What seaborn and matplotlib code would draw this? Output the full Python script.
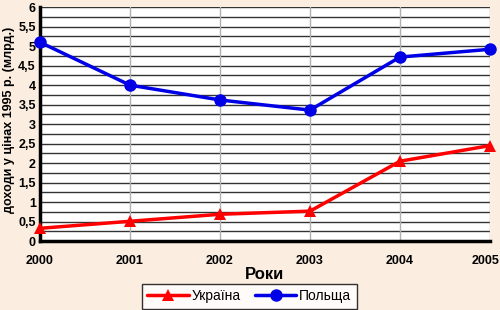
import matplotlib
matplotlib.use("Agg")
import matplotlib.pyplot as plt
import matplotlib.transforms as mtransforms
import seaborn as sns
import pandas as pd
import numpy as np

years = [2000, 2001, 2002, 2003, 2004, 2005]
ukraine = [0.33, 0.51, 0.69, 0.77, 2.05, 2.45]
poland = [5.10, 4.00, 3.62, 3.36, 4.72, 4.92]
y_ticks = [0, 0.5, 1, 1.5, 2, 2.5, 3, 3.5, 4, 4.5, 5, 5.5, 6]
y_tick_labels = ["0", "0,5", "1", "1,5", "2", "2,5", "3", "3,5", "4", "4,5", "5", "5,5", "6"]

sns.set_style("white")
plt.rcParams['font.family'] = ['Liberation Sans', 'DejaVu Sans']
plt.rcParams['text.color'] = 'black'
plt.rcParams['axes.labelcolor'] = 'black'
plt.rcParams['xtick.color'] = 'black'
plt.rcParams['ytick.color'] = 'black'

df = pd.DataFrame({
    "year": years * 2,
    "value": ukraine + poland,
    "country": ["Україна"] * 6 + ["Польща"] * 6,
})

fig = plt.figure(figsize=(5, 3.1), dpi=100, facecolor="#FBEEE0")
ax = fig.add_axes([0.08, 0.222, 0.90, 0.755])
ax.set_facecolor("white")

# grid
for v in np.arange(0.25, 6.01, 0.25):
    ax.axhline(v, color="#333333", lw=1.0, zorder=1)
for yr in years[1:]:
    ax.axvline(yr, color="#b0b0b0", lw=1.0, zorder=1)

sns.lineplot(data=df, x="year", y="value", hue="country", style="country",
             palette={"Україна": "#ff0000", "Польща": "#0000e6"},
             markers={"Україна": "^", "Польща": "o"}, dashes=False,
             markersize=9, linewidth=2.5, markeredgewidth=0, ax=ax,
             zorder=3, clip_on=False)

ax.set_xlim(2000, 2005)
ax.set_ylim(0, 6)
ax.set_yticks(y_ticks)
ax.set_yticklabels(y_tick_labels, fontsize=9, fontweight="bold")
ax.set_yticks(np.arange(0, 6.01, 0.25), minor=True)
ax.set_xticks(years)
ax.set_xticklabels([str(y) for y in years], fontsize=9, fontweight="bold")
ax.tick_params(axis="both", which="both", direction="in", length=4, width=2, color="black")
ax.tick_params(axis="x", pad=10)
ax.tick_params(axis="y", pad=3)

# nudge last x label so it stays inside the canvas
last = ax.get_xticklabels()[-1]
last.set_transform(last.get_transform() + mtransforms.ScaledTranslation(-4/100, 0, fig.dpi_scale_trans))

for s in ["top", "right"]:
    ax.spines[s].set_visible(False)
for s in ["left", "bottom"]:
    ax.spines[s].set_linewidth(2.5)
    ax.spines[s].set_color("black")

ax.set_xlabel("Роки", fontsize=12, fontweight="bold", labelpad=0)
ax.set_ylabel("доходи у цінах 1995 р. (млрд.)", fontsize=9, fontweight="bold", labelpad=4)
ax.yaxis.set_label_coords(-0.055, 0.52)

handles, labels = ax.get_legend_handles_labels()
leg = ax.legend(handles, labels, loc="center", bbox_to_anchor=(0.465, -0.235), ncol=2,
                frameon=True, fancybox=False, fontsize=10, handlelength=3,
                columnspacing=1.0, handletextpad=0.2, borderpad=0.4)
leg.get_frame().set_edgecolor("black")
leg.get_frame().set_linewidth(1.0)

fig.savefig("out.png", dpi=100, facecolor=fig.get_facecolor())
